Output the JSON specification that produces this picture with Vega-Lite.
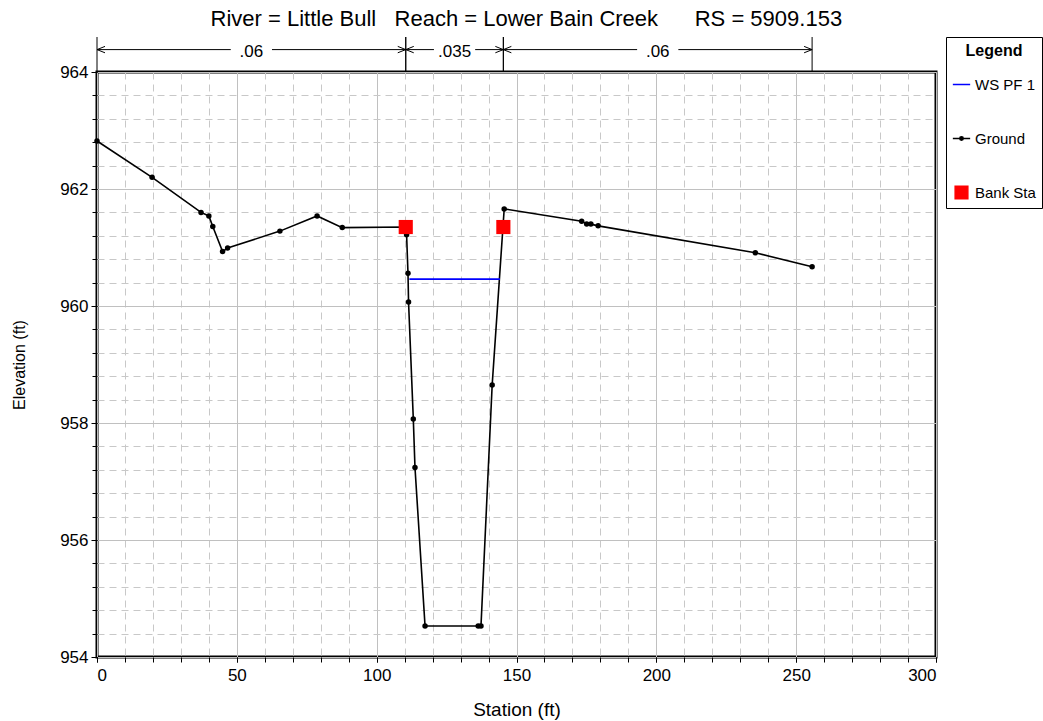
{
  "$schema": "https://vega.github.io/schema/vega-lite/v6.json",
  "padding": {"left": 10, "top": 7, "right": 2, "bottom": 0},
  "bounds": "flush",
  "title": {"text": "River = Little Bull\u00a0\u00a0 Reach = Lower Bain Creek\u00a0\u00a0\u00a0\u00a0\u00a0 RS = 5909.153", "fontSize": 22, "fontWeight": "normal", "font": "Liberation Sans", "color": "black", "offset": 6, "anchor": "middle"},
  "datasets": {
    "ground": [
      {"series": "Ground", "station": 0, "elevation": 962.82},
      {"series": "Ground", "station": 19.7, "elevation": 962.2},
      {"series": "Ground", "station": 37.2, "elevation": 961.6},
      {"series": "Ground", "station": 40.0, "elevation": 961.54},
      {"series": "Ground", "station": 41.4, "elevation": 961.36},
      {"series": "Ground", "station": 44.9, "elevation": 960.93},
      {"series": "Ground", "station": 46.7, "elevation": 960.99},
      {"series": "Ground", "station": 65.4, "elevation": 961.28},
      {"series": "Ground", "station": 78.7, "elevation": 961.54},
      {"series": "Ground", "station": 87.7, "elevation": 961.34},
      {"series": "Ground", "station": 110.4, "elevation": 961.35},
      {"series": "Ground", "station": 110.7, "elevation": 961.22},
      {"series": "Ground", "station": 111.2, "elevation": 960.56},
      {"series": "Ground", "station": 111.4, "elevation": 960.07},
      {"series": "Ground", "station": 113.1, "elevation": 958.07},
      {"series": "Ground", "station": 113.7, "elevation": 957.24},
      {"series": "Ground", "station": 117.3, "elevation": 954.53},
      {"series": "Ground", "station": 136.3, "elevation": 954.53},
      {"series": "Ground", "station": 137.3, "elevation": 954.53},
      {"series": "Ground", "station": 141.3, "elevation": 958.65},
      {"series": "Ground", "station": 145.6, "elevation": 961.66},
      {"series": "Ground", "station": 173.3, "elevation": 961.45},
      {"series": "Ground", "station": 175.1, "elevation": 961.4},
      {"series": "Ground", "station": 176.6, "elevation": 961.4},
      {"series": "Ground", "station": 179.2, "elevation": 961.37},
      {"series": "Ground", "station": 235.4, "elevation": 960.91},
      {"series": "Ground", "station": 255.7, "elevation": 960.67}
    ],
    "ws": [
      {"series": "WS PF 1", "station": 111.7, "elevation": 960.46},
      {"series": "WS PF 1", "station": 144.1, "elevation": 960.46}
    ],
    "bank": [
      {"series": "Bank Sta", "station": 110.4, "elevation": 961.35},
      {"series": "Bank Sta", "station": 145.3, "elevation": 961.35}
    ],
    "nvalues": [
      {"start": 0, "end": 110.4, "n": ".06"},
      {"start": 110.4, "end": 145.3, "n": ".035"},
      {"start": 145.3, "end": 255.7, "n": ".06"}
    ]
  },
  "spacing": 0,
  "vconcat": [
    {
      "width": 839,
      "height": 35,
      "view": {"stroke": null},
      "data": {"name": "nvalues"},
      "layer": [
        {
          "mark": {"type": "rule", "color": "black", "strokeWidth": 1},
          "encoding": {
            "x": {"field": "start", "type": "quantitative", "scale": {"domain": [0, 300], "nice": false, "zero": false}, "axis": null},
            "y": {"datum": 0, "type": "quantitative", "scale": {"domain": [0, 1]}, "axis": null},
            "y2": {"datum": 1}
          }
        },
        {
          "mark": {"type": "rule", "color": "black", "strokeWidth": 1},
          "encoding": {
            "x": {"field": "end", "type": "quantitative"},
            "y": {"datum": 0, "type": "quantitative"},
            "y2": {"datum": 1}
          }
        },
        {
          "mark": {"type": "rule", "color": "black", "strokeWidth": 1},
          "encoding": {
            "x": {"field": "start", "type": "quantitative"},
            "x2": {"field": "end"},
            "y": {"datum": 0.64, "type": "quantitative"}
          }
        },
        {
          "mark": {"type": "point", "shape": "M2,-0.8L0,0L2,0.8", "filled": false, "stroke": "black", "strokeWidth": 1, "size": 64, "opacity": 1},
          "encoding": {
            "x": {"field": "start", "type": "quantitative"},
            "y": {"datum": 0.64, "type": "quantitative"}
          }
        },
        {
          "mark": {"type": "point", "shape": "M-2,-0.8L0,0L-2,0.8", "filled": false, "stroke": "black", "strokeWidth": 1, "size": 64, "opacity": 1},
          "encoding": {
            "x": {"field": "end", "type": "quantitative"},
            "y": {"datum": 0.64, "type": "quantitative"}
          }
        },
        {
          "transform": [{"calculate": "(datum.start + datum.end) / 2", "as": "mid"}],
          "mark": {"type": "point", "shape": "M-1,-0.5H1V0.5H-1Z", "filled": true, "fill": "white", "strokeWidth": 0, "size": 1700, "opacity": 1},
          "encoding": {
            "x": {"field": "mid", "type": "quantitative"},
            "y": {"datum": 0.64, "type": "quantitative"}
          }
        },
        {
          "transform": [{"calculate": "(datum.start + datum.end) / 2", "as": "mid"}],
          "mark": {"type": "text", "fontSize": 17, "font": "Liberation Sans", "color": "black", "baseline": "middle", "dy": 2},
          "encoding": {
            "x": {"field": "mid", "type": "quantitative"},
            "y": {"datum": 0.64, "type": "quantitative"},
            "text": {"field": "n"}
          }
        }
      ]
    },
    {
      "width": 839,
      "height": 585,
      "resolve": {"axis": {"x": "independent", "y": "independent"}},
      "layer": [
        {
          "data": {"name": "ground"},
          "mark": {"type": "line", "strokeWidth": 1.6},
          "encoding": {
            "x": {"field": "station", "type": "quantitative", "scale": {"domain": [0, 300], "nice": false, "zero": false},
              "axis": {"orient": "bottom", "values": [0,10,20,30,40,50,60,70,80,90,100,110,120,130,140,150,160,170,180,190,200,210,220,230,240,250,260,270,280,290,300], "labels": false, "title": null, "domain": false, "ticks": true, "tickSize": 5, "tickColor": "black", "grid": true, "gridDash": [7, 5], "gridColor": "#c8c8c8", "gridWidth": 1}},
            "y": {"field": "elevation", "type": "quantitative", "scale": {"domain": [954, 964], "nice": false, "zero": false},
              "axis": {"orient": "left", "values": [954,954.4,954.8,955.2,955.6,956,956.4,956.8,957.2,957.6,958,958.4,958.8,959.2,959.6,960,960.4,960.8,961.2,961.6,962,962.4,962.8,963.2,963.6,964], "labels": false, "title": null, "domain": false, "ticks": true, "tickSize": 5, "tickColor": "black", "grid": true, "gridDash": [7, 5], "gridColor": "#c8c8c8", "gridWidth": 1}},
            "color": {"field": "series", "type": "nominal",
              "scale": {"domain": ["WS PF 1", "Ground", "Bank Sta"], "range": ["#0000ff", "#000000", "#ff0000"]},
              "legend": {
                "title": "Legend", "orient": "none", "legendX": 849, "legendY": 0,
                "titleFontSize": 16, "titleFontWeight": "bold", "titleFont": "Liberation Sans", "titleColor": "black", "titleAnchor": "middle", "titlePadding": 16,
                "labelFontSize": 15, "labelFont": "Liberation Sans", "labelColor": "black", "labelOffset": 4,
                "strokeColor": "black", "fillColor": "white", "padding": 6, "rowPadding": 36,
                "symbolSize": 300, "symbolStrokeWidth": 1.5,
                "encode": {
                  "symbols": {
                    "update": {
                      "shape": {"signal": "datum.value === 'Bank Sta' ? 'square' : (datum.value === 'Ground' ? 'M-1,0H1M0.2,0A0.2,0.2 0 1,1 -0.2,0A0.2,0.2 0 1,1 0.2,0Z' : 'M-1,0H1')"},
                      "fill": {"signal": "datum.value === 'Bank Sta' ? '#ff0000' : (datum.value === 'Ground' ? '#000000' : 'transparent')"},
                      "stroke": {"signal": "datum.value === 'Bank Sta' ? 'transparent' : (datum.value === 'Ground' ? '#000000' : '#0000ff')"},
                      "size": {"signal": "datum.value === 'Bank Sta' ? 160 : 300"},
                      "opacity": {"value": 1}
                    }
                  }
                }
              }}
          }
        },
        {
          "data": {"name": "ws"},
          "mark": {"type": "line", "strokeWidth": 1.6},
          "encoding": {
            "x": {"field": "station", "type": "quantitative",
              "axis": {"orient": "bottom", "values": [0, 50, 100, 150, 200, 250, 300], "title": "Station (ft)", "titleFontSize": 19, "titleFontWeight": "normal", "titleFont": "Liberation Sans", "titleColor": "black", "titlePadding": 17, "labelFontSize": 17, "labelFont": "Liberation Sans", "labelColor": "black", "labelPadding": 5, "domain": false, "ticks": true, "tickSize": 5, "tickColor": "black", "grid": true, "gridColor": "#c0c0c0", "gridWidth": 1}},
            "y": {"field": "elevation", "type": "quantitative",
              "axis": {"orient": "left", "values": [954, 956, 958, 960, 962, 964], "title": "Elevation (ft)", "titleFontSize": 16, "titleFontWeight": "normal", "titleFont": "Liberation Sans", "titleColor": "black", "titlePadding": 32, "labelFontSize": 17, "labelFont": "Liberation Sans", "labelColor": "black", "labelPadding": 3, "domain": false, "ticks": true, "tickSize": 6, "tickColor": "black", "grid": true, "gridColor": "#c0c0c0", "gridWidth": 1}},
            "color": {"field": "series", "type": "nominal"}
          }
        },
        {
          "data": {"name": "ground"},
          "mark": {"type": "point", "filled": true, "size": 30, "opacity": 1},
          "encoding": {
            "x": {"field": "station", "type": "quantitative", "axis": null},
            "y": {"field": "elevation", "type": "quantitative", "axis": null},
            "color": {"field": "series", "type": "nominal"}
          }
        },
        {
          "data": {"name": "bank"},
          "mark": {"type": "point", "shape": "square", "filled": true, "size": 200, "opacity": 1},
          "encoding": {
            "x": {"field": "station", "type": "quantitative", "axis": null},
            "y": {"field": "elevation", "type": "quantitative", "axis": null},
            "color": {"field": "series", "type": "nominal"}
          }
        }
      ]
    }
  ],
  "config": {
    "font": "Liberation Sans",
    "view": {"stroke": "black", "strokeWidth": 3},
    "axis": {"labelFont": "Liberation Sans", "titleFont": "Liberation Sans"}
  }
}
